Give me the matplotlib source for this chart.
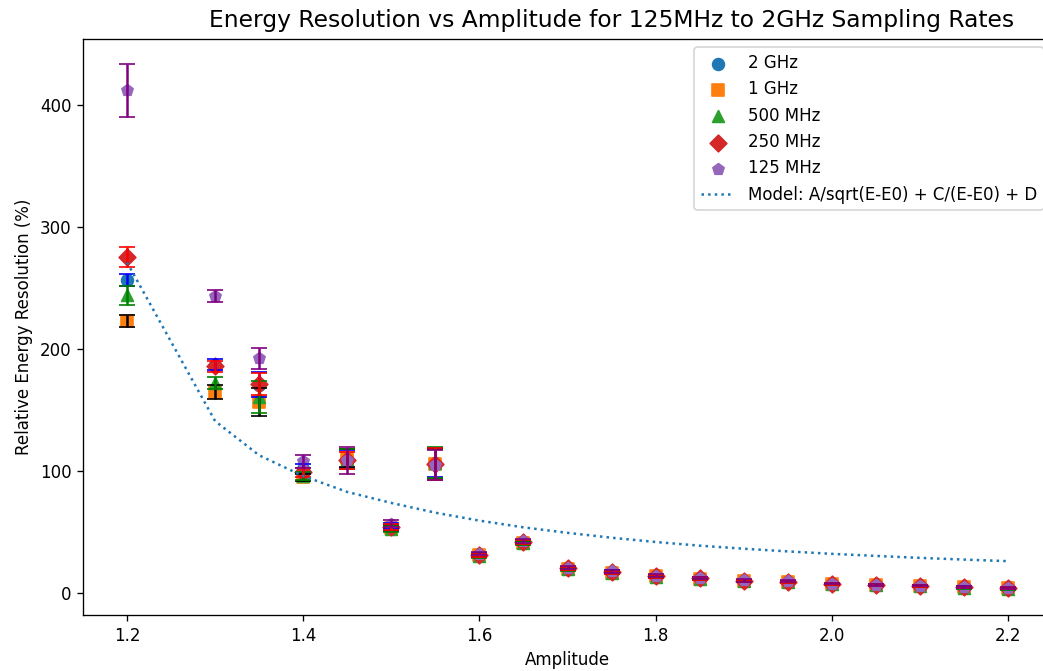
import matplotlib
matplotlib.use("Agg")
import matplotlib.pyplot as plt

amplitude = [1.2, 1.3, 1.35, 1.4, 1.45, 1.5, 1.55, 1.6, 1.65, 1.7, 1.75, 1.8,
             1.85, 1.9, 1.95, 2.0, 2.05, 2.1, 2.15, 2.2]

res_2ghz = [256.5, 187, 171, 102, 110, 55, 107, 31.5, 42, 20.5, 17.5, 14.0,
            12.2, 10.1, 9.5, 7.6, 6.8, 6.0, 4.9, 3.8]
err_2ghz = [5, 4.5, 10, 3.5, 7, 2.5, 12, 1.5, 1.5, 1.2, 1.2, 1.0,
            1.0, 0.9, 0.9, 0.8, 0.8, 0.7, 0.7, 0.7]

res_1ghz = [223, 165, 156.5, 95, 111, 53.5, 106, 31, 41.5, 20, 17, 13.8,
            12.0, 10.0, 9.3, 7.5, 6.7, 5.9, 4.8, 4.0]
err_1ghz = [5, 5.5, 11.5, 3, 7.5, 2.5, 12, 1.5, 1.5, 1.2, 1.2, 1.0,
            1.0, 0.9, 0.9, 0.8, 0.8, 0.7, 0.7, 0.7]

res_500mhz = [244, 172, 161, 96, 110, 53, 107, 30.5, 41, 19.8, 16.8, 13.5,
              11.8, 9.8, 9.2, 7.3, 6.5, 5.7, 4.6, 3.5]
err_500mhz = [8, 5, 13, 3, 8, 2.5, 12.5, 1.5, 1.5, 1.2, 1.2, 1.0,
              1.0, 0.9, 0.9, 0.8, 0.8, 0.7, 0.7, 0.7]

res_250mhz = [275.5, 186, 171.5, 99, 109, 54, 106, 31, 42, 20.3, 17.3, 13.9,
              12.1, 10.0, 9.4, 7.5, 6.7, 5.9, 4.8, 4.2]
err_250mhz = [8, 4.5, 9, 4, 7, 2.5, 13, 1.5, 1.5, 1.2, 1.2, 1.0,
              1.0, 0.9, 0.9, 0.8, 0.8, 0.7, 0.7, 0.7]

res_125mhz = [412, 243.5, 192.5, 108, 109, 57, 105, 32.5, 43, 21, 18, 14.5,
              12.7, 10.5, 9.8, 8.0, 7.1, 6.3, 5.2, 4.6]
err_125mhz = [21.5, 5, 8.6, 5, 11, 3, 12.5, 1.5, 1.5, 1.2, 1.2, 1.0,
              1.0, 0.9, 0.9, 0.8, 0.8, 0.7, 0.7, 0.7]

model_fit = [271, 141, 113, 96, 83, 74, 66, 59.5, 54, 49.5, 45.5, 42,
             39, 36.5, 34.3, 32.3, 30.6, 29, 27.6, 26.3]

labels = ["2 GHz", "1 GHz", "500 MHz", "250 MHz", "125 MHz"]
series = [res_2ghz, res_1ghz, res_500mhz, res_250mhz, res_125mhz]
errors = [err_2ghz, err_1ghz, err_500mhz, err_250mhz, err_125mhz]
markers = ["o", "s", "^", "D", "p"]
ecolors = ["blue", "black", "green", "red", "purple"]

W, H, DPI = 1043, 671, 120
fig = plt.figure(figsize=(W / DPI, H / DPI), dpi=DPI)
ax = fig.add_axes([83 / W, 1 - 615 / H, (1052 - 83) / W, 576 / H])

for i, (lab, y, m) in enumerate(zip(labels, series, markers)):
    ax.scatter(amplitude, y, marker=m, s=50, color=f"C{i}", label=lab)
for y, e, ec in zip(series, errors, ecolors):
    ax.errorbar(amplitude, y, yerr=e, fmt="none", ecolor=ec, capsize=5)

ax.plot(amplitude, model_fit, ":", color="C0",
        label="Model: A/sqrt(E-E0) + C/(E-E0) + D")

ax.set_xlim(1.15, 2.25)
ax.set_ylim(-17.8, 454)
ax.set_xticks([1.2, 1.4, 1.6, 1.8, 2.0, 2.2])
ax.set_yticks([0, 100, 200, 300, 400])
ax.set_xlabel("Amplitude")
ax.set_ylabel("Relative Energy Resolution (%)")
ax.legend(loc="upper right")
fig.text(612 / W, 1 - 20 / H,
         "Energy Resolution vs Amplitude for 125MHz to 2GHz Sampling Rates",
         ha="center", va="center", fontsize=14)

fig.savefig("out.png", dpi=DPI)
